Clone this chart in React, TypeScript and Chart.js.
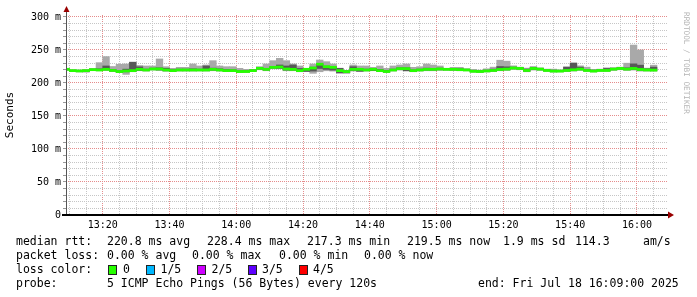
import React, { useEffect, useRef } from 'react';
import { Chart, registerables } from 'chart.js';

Chart.register(...registerables);

// centre time of each 2-minute RRD step
const times = [
  '13:09','13:11','13:13','13:15','13:17','13:19','13:21','13:23','13:25','13:27',
  '13:29','13:31','13:33','13:35','13:37','13:39','13:41','13:43','13:45','13:47',
  '13:49','13:51','13:53','13:55','13:57','13:59','14:01','14:03','14:05','14:07',
  '14:09','14:11','14:13','14:15','14:17','14:19','14:21','14:23','14:25','14:27',
  '14:29','14:31','14:33','14:35','14:37','14:39','14:41','14:43','14:45','14:47',
  '14:49','14:51','14:53','14:55','14:57','14:59','15:01','15:03','15:05','15:07',
  '15:09','15:11','15:13','15:15','15:17','15:19','15:21','15:23','15:25','15:27',
  '15:29','15:31','15:33','15:35','15:37','15:39','15:41','15:43','15:45','15:47',
  '15:49','15:51','15:53','15:55','15:57','15:59','16:01','16:03','16:05',
];

const medianRtt = [
  220.7,218.7,218.2,218.7,220.2,219.7,220.7,219.0,217.3,218.2,
  218.7,220.7,219.7,221.2,221.2,219.7,218.7,219.7,219.7,219.7,
  219.7,219.7,220.7,219.7,218.7,218.7,217.3,217.4,218.7,222.2,
  220.7,223.7,224.2,221.2,220.7,218.7,220.7,222.7,228.4,224.7,
  223.7,218.7,217.3,220.7,220.7,219.7,220.7,218.7,217.4,219.7,
  221.7,221.7,218.7,219.7,220.7,220.7,221.2,220.7,220.7,220.2,
  219.7,217.7,217.4,218.2,219.0,220.5,221.0,222.7,222.0,219.0,
  222.0,221.0,219.0,218.0,218.0,219.0,220.0,221.0,219.0,218.0,
  219.0,219.0,221.0,222.0,221.0,222.0,220.5,219.7,219.5,
];

const pingMin = [
  219.2,217.8,216.8,216.5,218.8,218.5,218.7,217.2,215.7,213.0,
  217.0,218.5,218.0,219.5,218.7,217.8,217.5,218.0,218.0,218.0,
  218.2,218.0,218.5,218.0,217.2,217.5,216.0,216.2,217.5,220.0,
  218.5,221.5,221.5,218.5,218.5,217.0,217.2,214.6,217.0,218.5,
  218.0,214.6,214.6,218.0,217.2,218.0,218.5,217.2,216.0,218.0,
  219.5,218.0,217.0,218.0,218.5,218.5,219.0,219.0,218.8,218.5,
  218.5,216.5,216.0,216.8,217.5,218.5,219.0,220.5,220.0,217.0,
  219.5,219.0,217.5,216.5,216.8,217.5,218.0,219.0,217.5,216.8,
  217.5,217.5,219.0,220.0,219.0,219.5,218.0,218.0,218.0,
];

const ping2 = [
  220.0,218.3,217.5,217.0,219.5,219.0,220.0,218.2,216.5,217.0,
  218.0,219.0,219.0,220.5,220.0,218.5,218.0,219.0,219.0,219.0,
  219.0,219.0,219.5,219.0,218.0,218.2,216.8,216.8,218.0,221.0,
  219.5,222.5,222.2,219.5,219.5,218.0,217.5,218.0,222.0,220.5,
  219.5,215.5,215.5,219.0,217.8,219.0,218.7,218.0,216.8,219.0,
  220.5,218.7,217.2,219.0,219.5,219.5,220.0,220.0,219.8,219.5,
  219.0,217.0,216.8,217.5,218.2,219.5,220.0,221.5,221.0,218.0,
  220.5,220.0,218.5,217.5,217.5,218.0,219.0,220.0,218.5,217.5,
  218.5,218.5,220.0,221.0,220.0,220.5,219.5,219.0,219.0,
];

const ping4 = [
  221.5,219.4,219.0,219.5,221.0,221.5,225.8,220.5,218.5,221.0,
  231.3,224.5,221.0,222.5,223.0,222.2,220.0,221.0,221.0,221.5,
  221.0,225.8,222.5,221.5,220.5,220.0,218.5,218.5,220.0,223.5,
  222.2,224.7,227.3,225.8,227.3,222.0,221.5,224.0,229.0,225.5,
  224.7,222.2,218.5,224.7,221.5,221.0,222.2,220.5,219.0,221.0,
  223.0,223.0,219.7,221.0,222.5,222.2,222.5,221.8,222.0,221.5,
  220.8,219.0,218.5,219.5,221.0,225.0,224.5,224.0,223.0,221.0,
  223.5,222.0,220.0,219.5,219.0,224.0,230.0,224.0,220.5,219.5,
  220.0,222.0,222.5,223.0,223.0,229.0,227.0,221.5,224.0,
];

const pingMax = [
  222.0,220.0,219.8,220.3,222.0,230.8,240.0,225.0,228.3,228.8,
  231.8,226.5,225.8,225.8,236.4,224.7,222.2,223.7,223.7,228.8,
  225.8,227.3,233.8,225.8,224.7,224.7,222.2,220.7,220.7,224.7,
  228.8,233.8,237.4,233.8,228.8,225.8,222.0,228.8,234.8,232.3,
  228.8,222.5,219.0,227.3,225.8,225.8,223.7,225.8,222.2,225.8,
  227.3,228.8,223.7,224.7,228.8,227.3,225.8,222.2,223.7,223.7,
  221.7,220.7,219.5,221.5,224.0,234.5,233.0,226.0,224.0,222.5,
  225.0,223.0,221.0,221.0,220.0,224.5,230.5,226.0,224.0,220.5,
  221.0,223.0,223.0,224.0,230.0,257.5,250.0,222.5,227.0,
];

const startTime = '13:09';
const endTime = '16:09';
const xTickLabels = ['13:20','13:40','14:00','14:20','14:40','15:00','15:20','15:40','16:00'];
const yTickValues = [0, 50, 100, 150, 200, 250, 300];
const yTickLabels = ['0', '50 m', '100 m', '150 m', '200 m', '250 m', '300 m'];

const lossLabels = ['0', '1/5', '2/5', '3/5', '4/5'];
const lossColors = ['#26ff00', '#00b8ff', '#ce00ff', '#5e00ff', '#ff0000'];

const MONO = '"DejaVu Sans Mono", monospace';

const toMin = (s: string) => {
  const [h, m] = s.split(':').map(Number);
  const [h0, m0] = startTime.split(':').map(Number);
  return h * 60 + m - (h0 * 60 + m0);
};

const xMax = toMin(endTime);
const majorX = xTickLabels.map(toMin);
const minorX: number[] = [];
for (let t = 1; t < xMax; t += 5) minorX.push(t);
const yTicks: number[] = [];
for (let v = 0; v <= 300; v += 10) yTicks.push(v);

const MINOR = '#c6c6c6';
const MAJOR = '#e58c8c';
const MED_HALF = 1.6;

const axesPlugin = {
  id: 'rrdAxes',
  afterDraw(chart: any) {
    const { ctx, chartArea: a } = chart;
    ctx.save();
    ctx.fillStyle = '#555';
    ctx.fillRect(a.left, 10, 1, a.bottom - 10);
    ctx.fillStyle = '#000';
    ctx.fillRect(a.left - 4, a.bottom - 1, a.right + 2 - (a.left - 4), 2);
    ctx.fillStyle = '#990000';
    ctx.beginPath();
    ctx.moveTo(a.left + 0.5, 6);
    ctx.lineTo(a.left - 2.5, 12);
    ctx.lineTo(a.left + 3.5, 12);
    ctx.closePath();
    ctx.fill();
    ctx.beginPath();
    ctx.moveTo(a.right + 7, a.bottom);
    ctx.lineTo(a.right + 1, a.bottom - 3.5);
    ctx.lineTo(a.right + 1, a.bottom + 3.5);
    ctx.closePath();
    ctx.fill();
    ctx.restore();
  },
};

function T({ x, y, children, size = 11.5, color = '#000' }: any) {
  return (
    <span
      style={{
        position: 'absolute', left: x, top: y, fontFamily: MONO, fontSize: size,
        lineHeight: '14px', whiteSpace: 'pre', color,
      }}
    >
      {children}
    </span>
  );
}

export default function App() {
  const ref = useRef<HTMLCanvasElement>(null);

  useEffect(() => {
    document.body.style.margin = '0';
    const xs = times.map(toMin);
    const common = {
      grouped: false, barPercentage: 1, categoryPercentage: 1, borderWidth: 0, clip: 0,
    };
    const chart = new Chart(ref.current!, {
      type: 'bar',
      data: {
        datasets: [
          {
            ...common, order: 3, backgroundColor: '#a9a9a9',
            data: xs.map((x, i) => ({ x, y: [pingMin[i], pingMax[i]] })),
          },
          {
            ...common, order: 2, backgroundColor: '#585858',
            data: xs.map((x, i) => ({ x, y: [ping2[i], ping4[i]] })),
          },
          {
            ...common, order: 1, backgroundColor: lossColors[0],
            data: xs.map((x, i) => ({ x, y: [medianRtt[i] - MED_HALF, medianRtt[i] + MED_HALF] })),
          },
        ] as any,
      },
      options: {
        responsive: false,
        animation: false,
        devicePixelRatio: 1,
        events: [],
        layout: { padding: { left: 0, top: 15, right: 30, bottom: 0 } },
        plugins: { legend: { display: false }, tooltip: { enabled: false }, title: { display: false } },
        scales: {
          x: {
            type: 'linear', min: 0, max: xMax, offset: false,
            afterBuildTicks: (s: any) => { s.ticks = minorX.map((v) => ({ value: v })); },
            afterFit: (s: any) => { s.height = 82; },
            border: { display: false, dash: [1, 1] },
            grid: {
              offset: false, drawTicks: false,
              color: (c: any) => (c.tick && majorX.includes(c.tick.value) ? MAJOR : MINOR),
            },
            ticks: {
              autoSkip: false, maxRotation: 0, minRotation: 0, padding: 4, color: '#000',
              font: { family: MONO, size: 10 },
              callback: (v: any) => {
                const i = majorX.indexOf(Number(v));
                return i >= 0 ? xTickLabels[i] : '';
              },
            },
          },
          y: {
            type: 'linear', min: 0, max: 303,
            afterBuildTicks: (s: any) => { s.ticks = yTicks.map((v) => ({ value: v })); },
            afterFit: (s: any) => { s.width = 66; },
            border: { display: false, dash: [1, 1] },
            grid: {
              drawTicks: true, tickLength: 3, tickColor: '#999',
              color: (c: any) => (c.tick && yTickValues.includes(c.tick.value) ? MAJOR : MINOR),
            },
            ticks: {
              autoSkip: false, padding: 2, color: '#000',
              font: { family: MONO, size: 10 },
              callback: (v: any) => {
                const i = yTickValues.indexOf(Number(v));
                return i >= 0 ? yTickLabels[i] : '';
              },
            },
            title: {
              display: true, text: 'Seconds', color: '#000',
              font: { family: MONO, size: 11 }, padding: { top: 4, bottom: 0 },
            },
          },
        },
      } as any,
      plugins: [axesPlugin],
    });
    return () => chart.destroy();
  }, []);

  const boxX = [108, 146, 197, 248, 299];
  const lossLabelX = [123, 160.5, 211.5, 262, 313];

  return (
    <div style={{ position: 'relative', width: 697, height: 297, background: '#fff', overflow: 'hidden' }}>
      <canvas ref={ref} width={697} height={297} style={{ position: 'absolute', left: 0, top: 0, width: 697, height: 297 }} />
      <span
        style={{
          position: 'absolute', left: 682, top: 12, fontFamily: MONO, fontSize: 7.7,
          writingMode: 'vertical-rl', color: '#b4b4b4', whiteSpace: 'pre', lineHeight: '9px',
        }}
      >
        RRDTOOL / TOBI OETIKER
      </span>

      <T x={16} y={234}>median rtt:</T>
      <T x={107} y={234}>220.8 ms avg</T>
      <T x={207} y={234}>228.4 ms max</T>
      <T x={307} y={234}>217.3 ms min</T>
      <T x={407} y={234}>219.5 ms now</T>
      <T x={503} y={234}>1.9 ms sd</T>
      <T x={575} y={234}>114.3</T>
      <T x={643} y={234}>am/s</T>

      <T x={16} y={248}>packet loss:</T>
      <T x={107} y={248}>0.00 % avg</T>
      <T x={192} y={248}>0.00 % max</T>
      <T x={279} y={248}>0.00 % min</T>
      <T x={364} y={248}>0.00 % now</T>

      <T x={16} y={262}>loss color:</T>
      {lossLabels.map((l, i) => (
        <React.Fragment key={l}>
          <span
            style={{
              position: 'absolute', left: boxX[i], top: 265, width: 7, height: 8,
              background: lossColors[i], border: '1px solid #222',
            }}
          />
          <T x={lossLabelX[i]} y={262}>{l}</T>
        </React.Fragment>
      ))}

      <T x={16} y={276}>probe:</T>
      <T x={107} y={276}>5 ICMP Echo Pings (56 Bytes) every 120s</T>
      <T x={478} y={276}>end: Fri Jul 18 16:09:00 2025</T>
    </div>
  );
}
